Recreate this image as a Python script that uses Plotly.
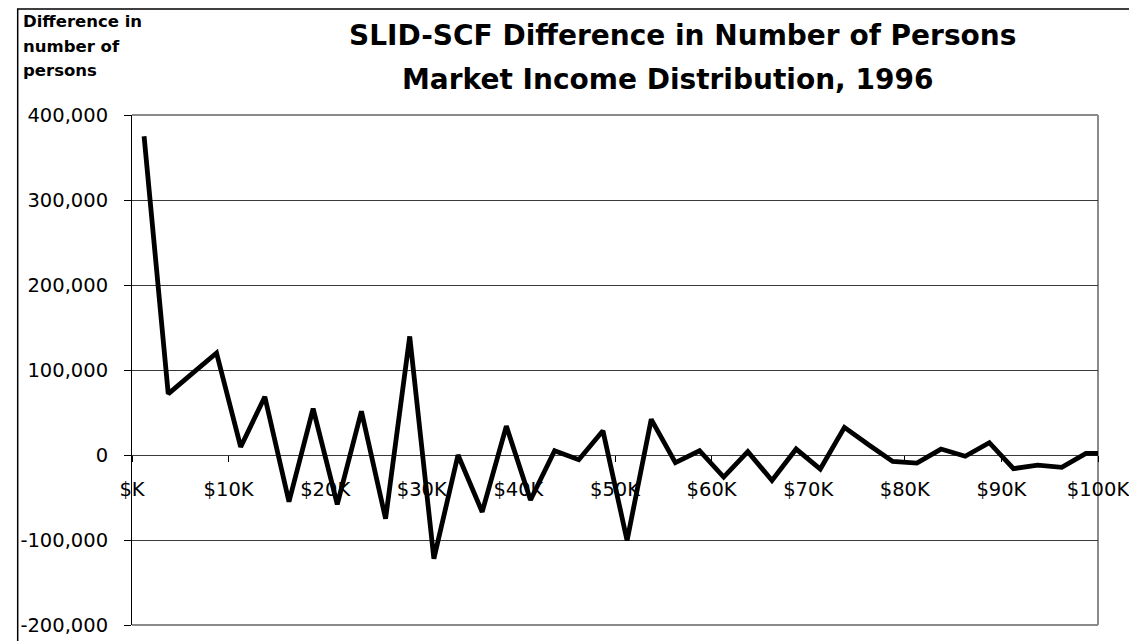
import plotly.graph_objects as go

# Income bin midpoints ($K) and SLID-SCF difference in number of persons
income_k = [1.25, 3.75, 6.25, 8.75, 11.25, 13.75, 16.25, 18.75, 21.25, 23.75,
            26.25, 28.75, 31.25, 33.75, 36.25, 38.75, 41.25, 43.75, 46.25, 48.75,
            51.25, 53.75, 56.25, 58.75, 61.25, 63.75, 66.25, 68.75, 71.25, 73.75,
            76.25, 78.75, 81.25, 83.75, 86.25, 88.75, 91.25, 93.75, 96.25, 98.75,
            101.25]
difference = [375000, 72000, 96000, 120000, 9500, 68500, -55000, 54500, -58000, 51500,
              -75000, 139500, -122000, 0, -67000, 34000, -53000, 5000, -5500, 28500,
              -100500, 42000, -9000, 5000, -26000, 4000, -30000, 7000, -16500, 32500,
              12000, -7500, -9500, 7000, -1500, 14500, -16000, -12000, -14500, 2000,
              2000]

x_tickvals = [0, 10, 20, 30, 40, 50, 60, 70, 80, 90, 100]
x_ticktext = ["$K", "$10K", "$20K", "$30K", "$40K", "$50K", "$60K", "$70K", "$80K", "$90K", "$100K"]
y_tickvals = [-200000, -100000, 0, 100000, 200000, 300000, 400000]
y_ticktext = ["-200,000", "-100,000", "0", "100,000", "200,000", "300,000", "400,000"]

title_lines = ["SLID-SCF Difference in Number of Persons", "Market Income Distribution, 1996"]
ytitle_lines = ["Difference in", "number of", "persons"]

# page body adds an 8px offset; work in screen coordinates and convert
OFF = 8
W, H = 1137, 641
L, R, T, B = 124, 1098, 115, 626          # plot area on screen
pw, ph = R - L, B - T


def px(x):
    return (x - L) / pw


def py(y):
    return (B - y) / ph


fig = go.Figure()
fig.add_trace(go.Scatter(
    x=income_k, y=difference, mode="lines",
    line=dict(color="black", width=4.8),
    hoverinfo="x+y", showlegend=False,
))

tick_font = dict(family="DejaVu Sans", size=19.5, color="black")

fig.update_layout(
    width=W, height=H,
    margin=dict(l=L - OFF, r=W - (R - OFF), t=T - OFF, b=H - (B - OFF), pad=0),
    paper_bgcolor="white", plot_bgcolor="white",
    showlegend=False,
    xaxis=dict(
        range=[0, 100], tickvals=x_tickvals, ticktext=x_ticktext,
        anchor="free", position=1 / 3,
        showgrid=False, zeroline=False, showline=False,
        ticks="outside", ticklen=6, tickwidth=1, tickcolor="black",
        tickfont=tick_font, ticklabelstandoff=11,
    ),
    yaxis=dict(
        range=[-200000, 400000], tickvals=y_tickvals, ticktext=y_ticktext,
        showgrid=True, gridcolor="#3a3a3a", gridwidth=1,
        zeroline=False, showline=True, linecolor="black", linewidth=1,
        ticks="outside", ticklen=7, tickwidth=1, tickcolor="black",
        tickfont=tick_font, ticklabelstandoff=12,
    ),
)

# plot-area border (gray) on top, right and bottom
for x0, x1, y0, y1 in [(0, 1, 1, 1), (1, 1, 0, 1), (0, 1, 0, 0)]:
    fig.add_shape(type="line", xref="paper", yref="paper", x0=x0, x1=x1, y0=y0, y1=y1,
                  line=dict(color="#8a8a8a", width=2), layer="between")

# outer chart border (black)
fig.add_shape(type="rect", xref="paper", yref="paper",
              x0=px(8.75), x1=px(1135), y0=py(660), y1=py(8.75),
              line=dict(color="black", width=1.5), layer="above")

# chart title (two bold lines)
fig.add_annotation(text=title_lines[0], xref="paper", yref="paper",
                   x=px(679), y=py(35.5), xanchor="center", yanchor="middle",
                   showarrow=False,
                   font=dict(family="DejaVu Sans", size=28, color="black", weight="bold"))
fig.add_annotation(text=title_lines[1], xref="paper", yref="paper",
                   x=px(664), y=py(79), xanchor="center", yanchor="middle",
                   showarrow=False,
                   font=dict(family="DejaVu Sans", size=28, color="black", weight="bold"))

# y-axis title at top-left
for line, yc in zip(ytitle_lines, [21, 46, 70.5]):
    fig.add_annotation(text=line, xref="paper", yref="paper",
                       x=px(12), y=py(yc), xanchor="left", yanchor="middle",
                       showarrow=False,
                       font=dict(family="DejaVu Sans", size=16.5, color="black", weight="bold"))

fig.write_html("out.html")
